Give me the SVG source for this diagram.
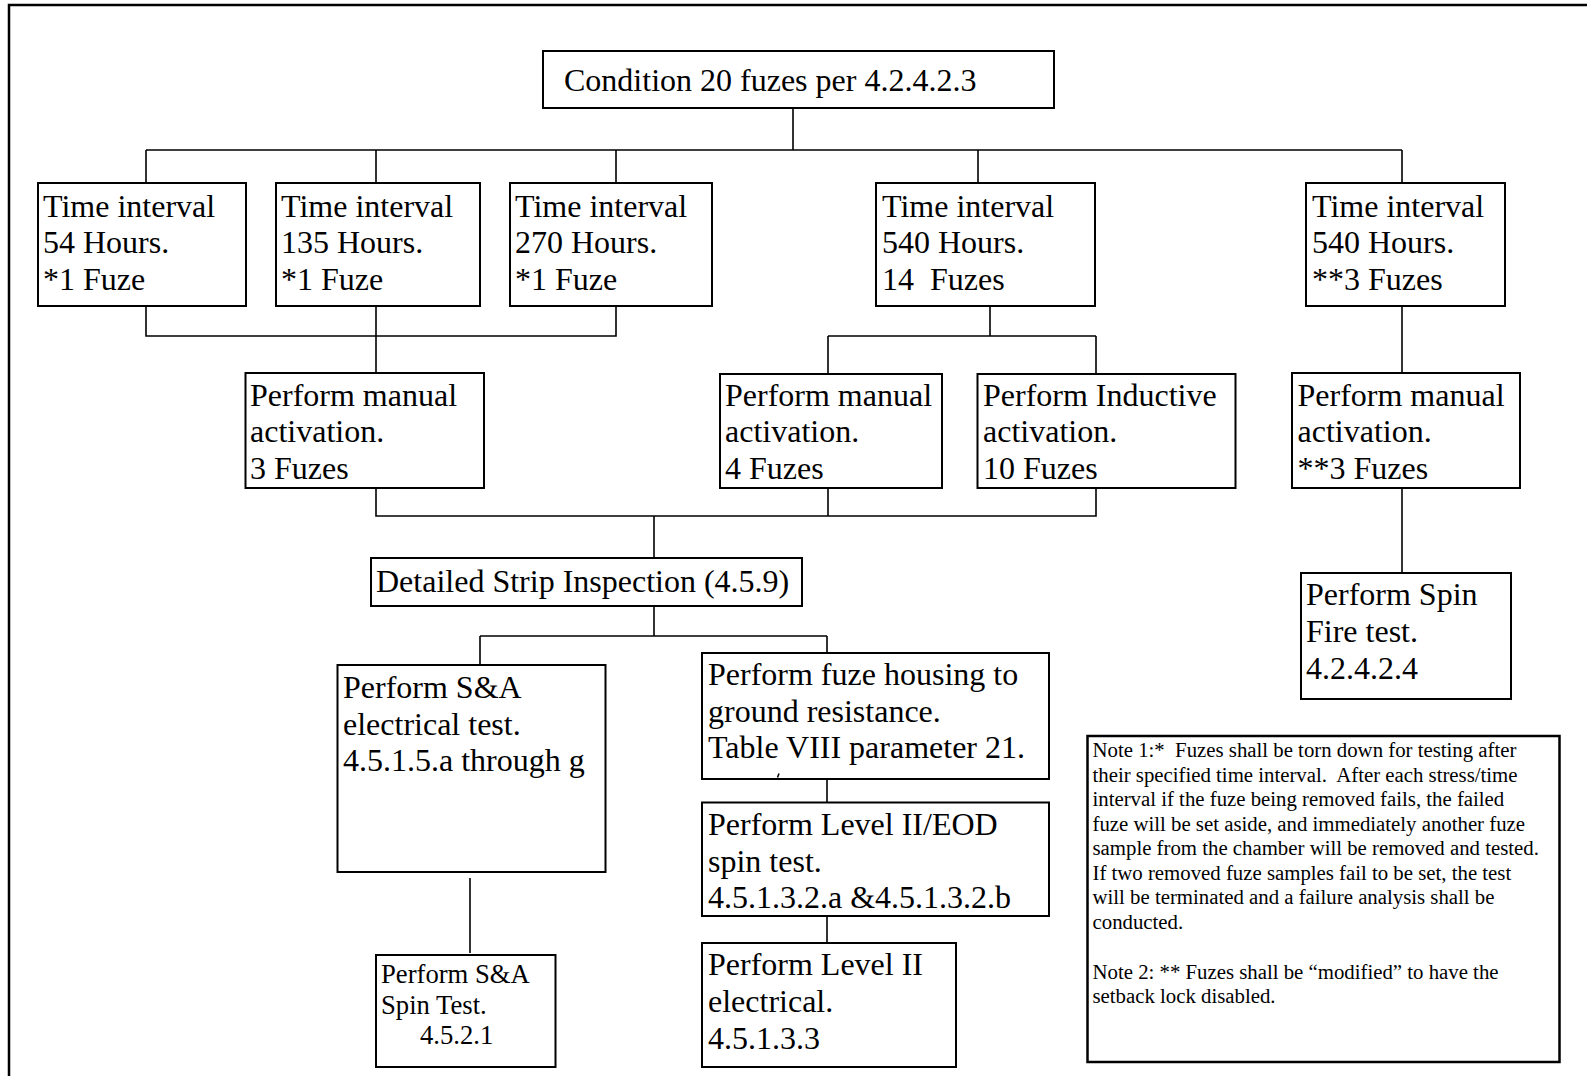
<svg xmlns="http://www.w3.org/2000/svg" width="1587" height="1076" viewBox="0 0 1587 1076">
<style>
text{font-family:"Liberation Serif","Times New Roman",serif;fill:#000}
.t{font-size:32px}
.s{font-size:26.67px}
.n{font-size:20.8px}
.box{fill:#fff;stroke:#000;stroke-width:2}
.c{fill:none;stroke:#000;stroke-width:1.6}
.frame{fill:none;stroke:#000;stroke-width:2.5}
</style>
<rect width="1587" height="1076" fill="#fff"/>
<path class="frame" d="M1587 5 H9 V1076"/>
<g id="connectors">
<path class="c" d="M793 108 V150 M146 150 H1402 M146 150 V183 M376 150 V183 M616 150 V183 M978 150 V183 M1402 150 V183"/>
<path class="c" d="M146 306 V336 H616 V306 M376 306 V373"/>
<path class="c" d="M990 306 V336 M828 336 H1096 M828 336 V374 M1096 336 V374"/>
<path class="c" d="M1402 306 V373"/>
<path class="c" d="M376 488 V516 H1096 V488 M828 488 V516 M654 516 V558"/>
<path class="c" d="M1402 488 V573"/>
<path class="c" d="M654 606 V636 M480 636 H827 M480 636 V665 M827 636 V653"/>
<path class="c" d="M827 779 V802 M827 916 V943"/>
<path class="c" d="M470 878 V953"/>
</g>
<g id="n-condition">
<rect class="box" x="543" y="51" width="511" height="57"/>
<text class="t" x="564" y="90.5">Condition 20 fuzes per 4.2.4.2.3</text>
</g>
<g id="n-ti54">
<rect class="box" x="38" y="183" width="208" height="123"/>
<text class="t" x="43" y="216.5">Time interval</text>
<text class="t" x="43" y="253.3">54 Hours.</text>
<text class="t" x="43" y="290">*1 Fuze</text>
</g>
<g id="n-ti135">
<rect class="box" x="276" y="183" width="204" height="123"/>
<text class="t" x="281" y="216.5">Time interval</text>
<text class="t" x="281" y="253.3">135 Hours.</text>
<text class="t" x="281" y="290">*1 Fuze</text>
</g>
<g id="n-ti270">
<rect class="box" x="510" y="183" width="202" height="123"/>
<text class="t" x="515" y="216.5">Time interval</text>
<text class="t" x="515" y="253.3">270 Hours.</text>
<text class="t" x="515" y="290">*1 Fuze</text>
</g>
<g id="n-ti540a">
<rect class="box" x="876" y="183" width="219" height="123"/>
<text class="t" x="882" y="216.5">Time interval</text>
<text class="t" x="882" y="253.3">540 Hours.</text>
<text class="t" x="882" y="290" xml:space="preserve">14  Fuzes</text>
</g>
<g id="n-ti540b">
<rect class="box" x="1306" y="183" width="199" height="123"/>
<text class="t" x="1312" y="216.5">Time interval</text>
<text class="t" x="1312" y="253.3">540 Hours.</text>
<text class="t" x="1312" y="290">**3 Fuzes</text>
</g>
<g id="n-manual1">
<rect class="box" x="245.5" y="373" width="238.5" height="115"/>
<text class="t" x="250" y="405.5">Perform manual</text>
<text class="t" x="250" y="442.3">activation.</text>
<text class="t" x="250" y="479">3 Fuzes</text>
</g>
<g id="n-manual2">
<rect class="box" x="720" y="374" width="222" height="114"/>
<text class="t" x="725" y="405.5">Perform manual</text>
<text class="t" x="725" y="442.3">activation.</text>
<text class="t" x="725" y="479">4 Fuzes</text>
</g>
<g id="n-inductive">
<rect class="box" x="977.5" y="374" width="258" height="114"/>
<text class="t" x="983" y="405.5">Perform Inductive</text>
<text class="t" x="983" y="442.3">activation.</text>
<text class="t" x="983" y="479">10 Fuzes</text>
</g>
<g id="n-manual3">
<rect class="box" x="1292" y="373" width="228" height="115"/>
<text class="t" x="1297.5" y="405.5">Perform manual</text>
<text class="t" x="1297.5" y="442.3">activation.</text>
<text class="t" x="1297.5" y="479">**3 Fuzes</text>
</g>
<g id="n-strip">
<rect class="box" x="371" y="558" width="431" height="48"/>
<text class="t" x="376" y="592">Detailed Strip Inspection (4.5.9)</text>
</g>
<g id="n-spinfire">
<rect class="box" x="1301" y="573" width="210" height="126"/>
<text class="t" x="1306" y="605">Perform Spin</text>
<text class="t" x="1306" y="642">Fire test.</text>
<text class="t" x="1306" y="679">4.2.4.2.4</text>
</g>
<g id="n-sa-elec">
<rect class="box" x="337.5" y="665" width="268" height="207"/>
<text class="t" x="343" y="698">Perform S&amp;A</text>
<text class="t" x="343" y="734.5">electrical test.</text>
<text class="t" x="343" y="771">4.5.1.5.a through g</text>
</g>
<g id="n-housing">
<rect class="box" x="702" y="653" width="347" height="126"/>
<text class="t" x="708" y="685">Perform fuze housing to</text>
<text class="t" x="708" y="721.5">ground resistance.</text>
<text class="t" x="708" y="758">Table VIII parameter 21.</text>
<path d="M777.5 777.5 l1.5 -4" stroke="#000" stroke-width="1.5"/>
</g>
<g id="n-eod">
<rect class="box" x="702" y="802.5" width="347" height="113.5"/>
<text class="t" x="708" y="835">Perform Level II/EOD</text>
<text class="t" x="708" y="871.5">spin test.</text>
<text class="t" x="708" y="908">4.5.1.3.2.a &amp;4.5.1.3.2.b</text>
</g>
<g id="n-level2">
<rect class="box" x="702" y="943" width="254" height="124"/>
<text class="t" x="708" y="975">Perform Level II</text>
<text class="t" x="708" y="1012">electrical.</text>
<text class="t" x="708" y="1049">4.5.1.3.3</text>
</g>
<g id="n-sa-spin">
<rect class="box" x="376" y="955" width="179.5" height="112"/>
<text class="s" x="381" y="983">Perform S&amp;A</text>
<text class="s" x="381" y="1013.5">Spin Test.</text>
<text class="s" x="420" y="1044">4.5.2.1</text>
</g>
<g id="n-notes">
<rect class="box" x="1087.5" y="736" width="472" height="326" style="stroke-width:2.5"/>
<text class="n" x="1092.5" y="757" xml:space="preserve">Note 1:*  Fuzes shall be torn down for testing after</text>
<text class="n" x="1092.5" y="781.5" xml:space="preserve">their specified time interval.  After each stress/time</text>
<text class="n" x="1092.5" y="806">interval if the fuze being removed fails, the failed</text>
<text class="n" x="1092.5" y="830.5">fuze will be set aside, and immediately another fuze</text>
<text class="n" x="1092.5" y="855">sample from the chamber will be removed and tested.</text>
<text class="n" x="1092.5" y="879.5">If two removed fuze samples fail to be set, the test</text>
<text class="n" x="1092.5" y="904">will be terminated and a failure analysis shall be</text>
<text class="n" x="1092.5" y="928.5">conducted.</text>
<text class="n" x="1092.5" y="978.5">Note 2: ** Fuzes shall be “modified” to have the</text>
<text class="n" x="1092.5" y="1003">setback lock disabled.</text>
</g>
</svg>
